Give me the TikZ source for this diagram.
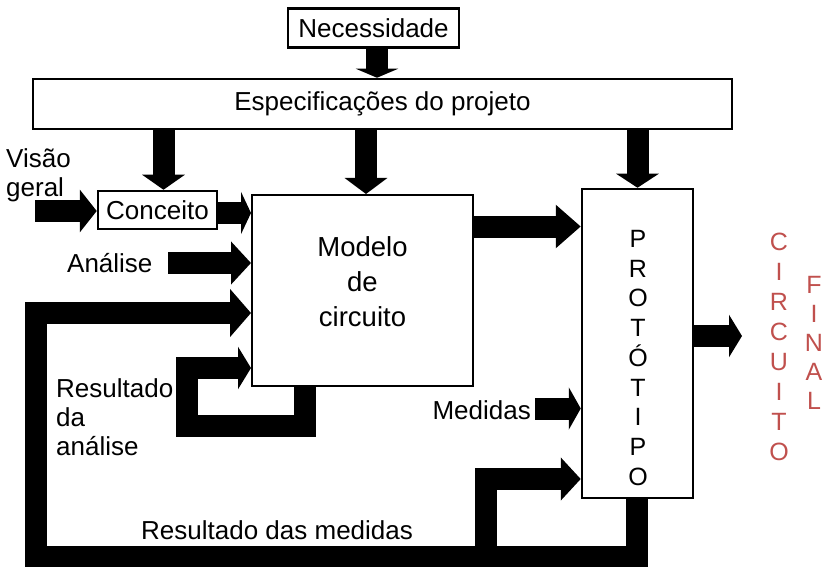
\documentclass[tikz,border=0pt]{standalone}
\usepackage{fontspec}
\setmainfont{Liberation Sans}
\usetikzlibrary{arrows.meta}
\definecolor{finalred}{RGB}{192,80,77}
\newcommand{\fsz}{\fontsize{26}{29}\selectfont}

\begin{document}
\begin{tikzpicture}[x=1pt,y=-1pt,
  box/.style={draw, line width=2.5pt, inner sep=0pt, font=\fsz},
  lbl/.style={font=\fsz, inner sep=0pt},
  fat/.style={line width=22pt, line join=miter},
  blockhead/.style={-{Triangle[width=42pt,length=#1]}}]
  \useasboundingbox (0,0) rectangle (825,567);

  % boxes
  \node[box, minimum width=171pt, minimum height=39pt] (nec) at (373.5,28) {Necessidade};
  \node[box, minimum width=699pt, minimum height=50pt] (spec) at (382.5,104) {Especificações do projeto};
  \node[box, minimum width=119pt, minimum height=38pt] (conc) at (157.5,210) {Conceito};
  \node[box, line width=2pt, minimum width=221pt, minimum height=191pt] (mod) at (362.5,290.5) {};
  \node[box, minimum width=111pt, minimum height=309pt] (proto) at (637.5,343.5) {};

  % texts
  \node[lbl, font=\fontsize{27.5}{35}\selectfont, align=center] (modlbl) at (362.5,282) {Modelo\\de\\circuito};
  \node[lbl, font=\fontsize{25}{29.75}\selectfont, align=center] (protolbl) at (638,358) {P\\R\\O\\T\\Ó\\T\\I\\P\\O};
  \node[lbl, align=left, anchor=west] (vg) at (6,175) {Visão\\geral};
  \node[lbl, anchor=west] (ana) at (67,263) {Análise};
  \node[lbl, align=left, anchor=west] (resa) at (56,417) {Resultado\\da\\análise};
  \node[lbl, anchor=east] (med) at (531,410) {Medidas};
  \node[lbl, anchor=west] (resm) at (141,530) {Resultado das medidas};
  \node[lbl, font=\fontsize{25}{30}\selectfont, text=finalred, align=center] (circ) at (779,347) {C\\I\\R\\C\\U\\I\\T\\O};
  \node[lbl, font=\fontsize{25}{29}\selectfont, text=finalred, align=center] (fin) at (814,343) {F\\I\\N\\A\\L};

  % free ends
  \coordinate (vgtail) at (35,211);
  \coordinate (anatail) at (168,263);
  \coordinate (medtail) at (535,408.5);
  \coordinate (out) at (742,336);

  % block arrows
  \draw[fat, blockhead=9pt] (nec.south -| 377,0) -- (377,0 |- spec.north);
  \draw[fat, blockhead=15pt] (spec.south -| 163.5,0) -- (163.5,0 |- conc.north);
  \draw[fat, blockhead=16pt] (spec.south -| 366,0) -- (366,0 |- mod.north);
  \draw[fat, blockhead=14pt] (spec.south -| proto.north) -- (proto.north);
  \draw[fat, blockhead=17pt] (vgtail) -- (vgtail -| conc.west);
  \draw[fat, blockhead=10pt] (conc.east |- 0,213) -- (mod.west |- 0,213);
  \draw[fat, blockhead=20pt] (anatail) -- (anatail -| mod.west);
  \draw[fat, blockhead=25pt] (mod.east |- 0,226.5) -- (proto.west |- 0,226.5);
  \draw[fat, blockhead=12pt] (medtail) -- (medtail -| proto.west);
  \draw[fat, blockhead=13pt] (proto.east |- out) -- (out);

  % loops
  \draw[fat, blockhead=13pt] (mod.south -| 304.5,0) -- (304.5,426) -- (187,426) -- (187,368) -- (187,368 -| mod.west);
  \draw[fat, -{Triangle[width=47pt,length=21pt]}] (proto.south -| 636.5,0) -- (636.5,557) -- (35.5,557) -- (35.5,313) -- (35.5,313 -| mod.west);
  \draw[fat, blockhead=20pt] (485.5,557) -- (485.5,479) -- (485.5,479 -| proto.west);
\end{tikzpicture}
\end{document}
